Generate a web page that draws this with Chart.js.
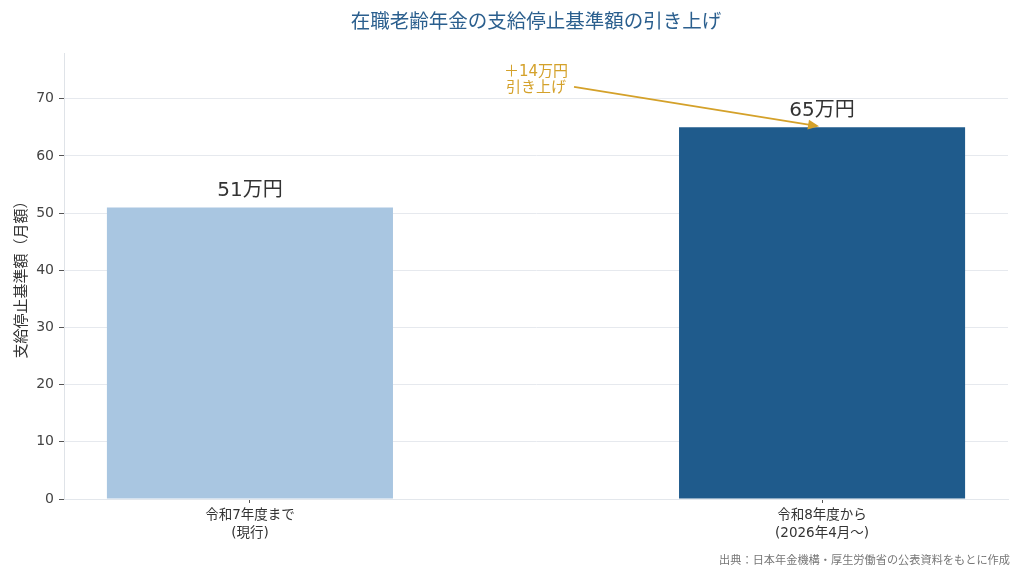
<!DOCTYPE html>
<html lang="ja">
<head>
<meta charset="utf-8">
<script src="https://cdn.jsdelivr.net/npm/chart.js@4.4.1/dist/chart.umd.min.js"></script>
<style>
  html, body { margin: 0; padding: 0; background: #fff; }
  #wrap { width: 1024px; height: 573px; }
</style>
</head>
<body>
<div id="wrap"><canvas id="chart"></canvas></div>
<script>
// データ
const categories = [['令和7年度まで', '(現行)'], ['令和8年度から', '(2026年4月〜)']];
const amounts = [51, 65];            // 万円
const valueLabels = ['51万円', '65万円'];
const barColors = ['#a9c6e1', '#1f5b8c'];
const yTicks = [0, 10, 20, 30, 40, 50, 60, 70];

const titleText = '在職老齢年金の支給停止基準額の引き上げ';
const yTitle = '支給停止基準額（月額）';
const noteLines = ['＋14万円', '引き上げ'];
const sourceText = '出典：日本年金機構・厚生労働省の公表資料をもとに作成';

const FONT = '"DejaVu Sans", "Noto Sans CJK JP", sans-serif';

// タイトル・値ラベル・矢印・出典を描く
const extras = {
    id: 'extras',
    afterDatasetsDraw(chart) {
        const { ctx, chartArea, scales: { x, y } } = chart;
        ctx.save();

        // タイトル
        ctx.fillStyle = '#2b5f8e';
        ctx.font = '19.5px ' + FONT;
        ctx.textAlign = 'center';
        ctx.textBaseline = 'middle';
        ctx.fillText(titleText, (chartArea.left + chartArea.right) / 2, 23);

        // 棒の上の値
        ctx.fillStyle = '#333';
        ctx.font = '20px ' + FONT;
        ctx.textBaseline = 'bottom';
        amounts.forEach((v, i) => {
            ctx.fillText(valueLabels[i], x.getPixelForValue(i), y.getPixelForValue(v) - 7);
        });

        // 注記と矢印
        const nx = x.getPixelForValue(0.5);
        const ny = y.getPixelForValue(73.3);
        ctx.fillStyle = '#d4a12a';
        ctx.font = '15px ' + FONT;
        ctx.textBaseline = 'middle';
        ctx.fillText(noteLines[0], nx, ny - 8);
        ctx.fillText(noteLines[1], nx, ny + 8);

        const sx = nx + 38, sy = ny + 7;
        const ex = x.getPixelForValue(1) - 3, ey = y.getPixelForValue(amounts[1]) - 1;
        const ang = Math.atan2(ey - sy, ex - sx);
        ctx.strokeStyle = '#d4a12a';
        ctx.lineWidth = 2;
        ctx.beginPath();
        ctx.moveTo(sx, sy);
        ctx.lineTo(ex - 6 * Math.cos(ang), ey - 6 * Math.sin(ang));
        ctx.stroke();
        ctx.beginPath();
        ctx.moveTo(ex, ey);
        ctx.lineTo(ex - 11 * Math.cos(ang) + 5 * Math.sin(ang), ey - 11 * Math.sin(ang) - 5 * Math.cos(ang));
        ctx.lineTo(ex - 11 * Math.cos(ang) - 5 * Math.sin(ang), ey - 11 * Math.sin(ang) + 5 * Math.cos(ang));
        ctx.closePath();
        ctx.fill();

        // 出典
        ctx.fillStyle = '#777';
        ctx.font = '11.2px ' + FONT;
        ctx.textAlign = 'right';
        ctx.fillText(sourceText, 1010, 561);

        ctx.restore();
    }
};

const ctx = document.getElementById('chart').getContext('2d');
const chart = new Chart(ctx, {
    type: 'bar',
    data: {
        datasets: [{
            data: amounts.map((v, i) => ({ x: i, y: v })),
            backgroundColor: barColors,
            borderWidth: 0,
            barPercentage: 0.5,
            categoryPercentage: 1.0
        }]
    },
    options: {
        responsive: true,
        maintainAspectRatio: false,
        animation: false,
        layout: { padding: { top: 53, right: 16, bottom: 0, left: 0 } },
        plugins: {
            legend: { display: false },
            tooltip: { enabled: false }
        },
        scales: {
            x: {
                type: 'linear',
                min: -0.325,
                max: 1.325,
                offset: false,
                afterBuildTicks: (scale) => { scale.ticks = categories.map((c, i) => ({ value: i })); },
                afterFit: (scale) => { scale.height = 74; },
                grid: { offset: false, drawOnChartArea: false, drawTicks: true, tickLength: 4, tickColor: '#555' },
                border: { display: true, color: '#e3e7ec' },
                ticks: {
                    padding: 4,
                    color: '#333',
                    font: { family: FONT, size: 13.5, lineHeight: 1.3 },
                    callback: (v) => categories[v]
                }
            },
            y: {
                min: 0,
                max: 78,
                afterBuildTicks: (scale) => { scale.ticks = yTicks.map(v => ({ value: v })); },
                afterFit: (scale) => { scale.width = 64; },
                grid: { color: '#e6e9ee', tickLength: 5, tickColor: '#555' },
                border: { display: true, color: '#dfe3e8' },
                ticks: {
                    padding: 5,
                    color: '#444',
                    font: { family: FONT, size: 14 }
                },
                title: {
                    display: true,
                    text: yTitle,
                    color: '#333',
                    padding: { top: 13, bottom: 0 },
                    font: { family: FONT, size: 15 }
                }
            }
        }
    },
    plugins: [extras]
});
</script>
</body>
</html>
